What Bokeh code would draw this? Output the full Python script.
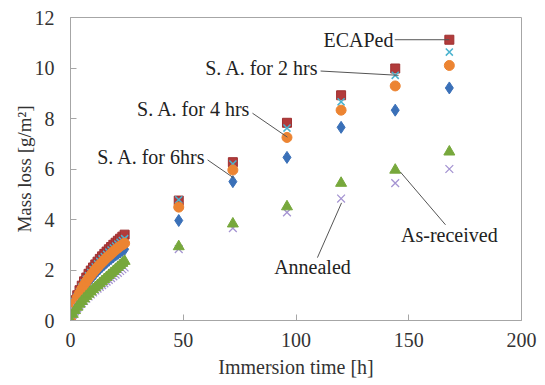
from bokeh.plotting import figure
from bokeh.embed import file_html
from bokeh.resources import INLINE
from bokeh.models import FixedTicker
from bokeh.core.properties import value

# ---------------- data ----------------
t_early = [0, 1, 2, 3, 4, 5, 6, 7, 8, 9, 10, 11, 12, 13, 14, 15, 16, 17, 18, 19, 20, 21, 22, 23, 24]
t_late = [48, 72, 96, 120, 144, 168]
time_h = t_early + t_late

ecaped = [0, 0.55, 0.8, 1.0, 1.2, 1.38, 1.55, 1.7, 1.85, 1.98, 2.1, 2.22, 2.33, 2.44, 2.54,
          2.64, 2.73, 2.82, 2.91, 3.0, 3.08, 3.16, 3.24, 3.32, 3.4,
          4.75, 6.27, 7.83, 8.92, 9.98, 11.12]
sa_2h = [0, 0.5, 0.75, 0.95, 1.14, 1.32, 1.48, 1.63, 1.77, 1.9, 2.02, 2.13, 2.24, 2.34, 2.44,
         2.53, 2.62, 2.71, 2.79, 2.87, 2.95, 3.03, 3.1, 3.17, 3.24,
         4.78, 6.2, 7.62, 8.66, 9.71, 10.63]
sa_4h = [0, 0.45, 0.7, 0.9, 1.08, 1.25, 1.4, 1.54, 1.67, 1.79, 1.9, 2.01, 2.11, 2.21, 2.3,
         2.39, 2.48, 2.56, 2.64, 2.72, 2.8, 2.87, 2.94, 3.0, 3.06,
         4.49, 5.96, 7.25, 8.33, 9.29, 10.1]
sa_6h = [0, 0.4, 0.63, 0.82, 0.99, 1.15, 1.29, 1.42, 1.54, 1.65, 1.76, 1.86, 1.96, 2.05, 2.14,
         2.22, 2.3, 2.38, 2.45, 2.52, 2.59, 2.65, 2.71, 2.77, 2.82,
         3.96, 5.5, 6.46, 7.65, 8.33, 9.21]
annealed = [0, 0.25, 0.4, 0.53, 0.65, 0.76, 0.86, 0.96, 1.05, 1.14, 1.23, 1.31, 1.39, 1.47, 1.55,
            1.63, 1.71, 1.79, 1.87, 1.95, 2.03, 2.11, 2.19, 2.27, 2.35,
            2.93, 3.83, 4.51, 5.44, 5.96, 6.68]
as_received = [0, 0.22, 0.36, 0.48, 0.59, 0.69, 0.78, 0.87, 0.95, 1.03, 1.11, 1.19, 1.26, 1.33, 1.4,
               1.47, 1.54, 1.61, 1.68, 1.75, 1.82, 1.89, 1.96, 2.03, 2.1,
               2.83, 3.66, 4.28, 4.83, 5.44, 6.0]

x_ticks = [0, 50, 100, 150, 200]
y_ticks = [0, 2, 4, 6, 8, 10, 12]

# annotation labels (data coordinates) and leader lines
label_text = ["ECAPed", "S. A. for 2 hrs", "S. A. for 4 hrs", "S. A. for 6hrs", "Annealed", "As-received"]
label_x = [143.2, 110.0, 79.8, 59.9, 107.3, 168.0]
label_y = [11.09, 9.99, 8.37, 6.47, 2.13, 3.4]
label_align = ["right", "right", "right", "right", "center", "center"]
lead_x0 = [143.8, 110.9, 80.7, 60.8, 109.5, 166.3]
lead_y0 = [11.12, 9.88, 8.21, 6.36, 2.49, 3.79]
lead_x1 = [168.0, 145.5, 96.2, 72.3, 120.2, 146.3]
lead_y1 = [11.12, 9.71, 7.26, 5.65, 4.66, 5.88]

FONT = "Liberation Serif"

p = figure(width=537, height=380, output_backend="svg", toolbar_location=None,
           x_range=(0, 200), y_range=(0, 12),
           min_border_left=70, min_border_right=16, min_border_top=17, min_border_bottom=59)
p.background_fill_color = "white"
p.border_fill_color = "white"
p.outline_line_color = "#a6a6a6"
p.xgrid.visible = False
p.ygrid.visible = False

for ax in (p.xaxis[0], p.yaxis[0]):
    ax.axis_line_color = "#a6a6a6"
    ax.major_tick_line_color = "#a6a6a6"
    ax.major_tick_in = 6
    ax.major_tick_out = 0
    ax.minor_tick_line_color = None
    ax.major_label_text_font = FONT
    ax.major_label_text_font_size = "20px"
    ax.major_label_text_color = "#333333"
    ax.axis_label_text_font = FONT
    ax.axis_label_text_font_style = "normal"
    ax.axis_label_text_color = "#333333"

p.xaxis.ticker = FixedTicker(ticks=x_ticks)
p.yaxis.ticker = FixedTicker(ticks=y_ticks)
p.xaxis.axis_label = "Immersion time [h]"
p.yaxis.axis_label = "Mass loss [g/m\u00b2]"
p.xaxis.axis_label_text_font_size = "20px"
p.yaxis.axis_label_text_font_size = "19px"
p.xaxis.major_label_standoff = 12
p.yaxis.major_label_standoff = 16
p.xaxis.axis_label_standoff = 6
p.yaxis.axis_label_standoff = -3

# series
p.scatter(time_h, ecaped, marker="square", size=9, fill_color="#b23b3b", line_color="#9e3030")
p.scatter(time_h, sa_2h, marker="x", size=10, line_color="#4bb3cf", line_width=1.5)
p.scatter(time_h, sa_6h, marker="diamond", size=12, fill_color="#3a70b8", line_color="#3a70b8")
p.scatter(time_h, sa_4h, marker="circle", size=10, fill_color="#ec8432", line_color="#ec8432")
p.scatter(time_h, as_received, marker="x", size=11, line_color="#a594d2", line_width=1.3)
p.scatter(time_h, annealed, marker="triangle", size=11, fill_color="#77a83c", line_color="#77a83c")

# leader lines and labels
p.segment(lead_x0, lead_y0, lead_x1, lead_y1, line_color="#555555", line_width=1)
p.text(label_x, label_y, text=label_text, text_align=label_align, text_baseline="middle",
       text_font=value(FONT), text_font_size="20px", text_color="#222222")

open("out.html", "w").write(file_html(p, INLINE))
